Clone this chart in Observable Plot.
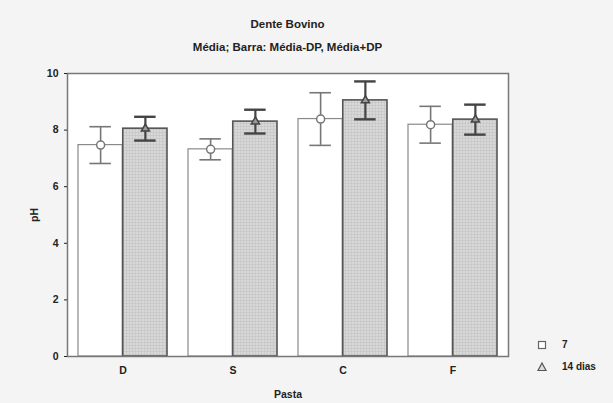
<!DOCTYPE html>
<html>
<head>
<meta charset="utf-8">
<script src="https://cdn.jsdelivr.net/npm/d3@7"></script>
<script src="https://cdn.jsdelivr.net/npm/@observablehq/plot@0.6"></script>
<style>
  html, body { margin: 0; padding: 0; background: #f4f4f4; }
  #wrap { position: relative; width: 613px; height: 403px; background: #f4f4f4;
          font-family: "Liberation Sans", Arial, sans-serif; font-weight: bold; color: #222; }
  .t { position: absolute; left: 67px; width: 441px; text-align: center; font-size: 11.5px; line-height: 14px; }
  #chart { position: absolute; left: 0; top: 60px; }
  .leg { position: absolute; left: 536px; font-size: 10px; line-height: 12px; display: flex; align-items: center; }
  .leg span { margin-left: 14px; }
</style>
</head>
<body>
<div id="wrap">
  <div class="t" style="top:17px">Dente Bovino</div>
  <div class="t" style="top:40px">Média; Barra: Média-DP, Média+DP</div>
  <div id="chart"></div>
  <div class="leg" style="top:339px">
    <svg width="12" height="12"><rect x="2.5" y="2.5" width="7" height="7" fill="white" stroke="#666" stroke-width="1.2"/></svg><span>7</span>
  </div>
  <div class="leg" style="top:361px">
    <svg width="12" height="12"><path d="M6,2 L10,9.5 L2,9.5 Z" fill="#ddd" stroke="#555" stroke-width="1.2"/></svg><span>14 dias</span>
  </div>
</div>
<script>
const pastas = ["D", "S", "C", "F"];
const series = ["7", "14 dias"];
const media7 = [7.47, 7.32, 8.39, 8.19];
const dp7 = [0.65, 0.37, 0.93, 0.65];
const media14 = [8.05, 8.30, 9.05, 8.37];
const dp14 = [0.42, 0.42, 0.67, 0.53];
const yTicks = [0, 2, 4, 6, 8, 10];

const rows7 = pastas.map((p, i) => ({pasta: p, serie: series[0], media: media7[i], dp: dp7[i]}));
const rows14 = pastas.map((p, i) => ({pasta: p, serie: series[1], media: media14[i], dp: dp14[i]}));

const W = 613, H = 343, ML = 67, MR = 105, MT = 13, MB = 47;
const PI = 0.19, PO = 0.09;
const step = (W - ML - MR) / (pastas.length - PI + 2 * PO);
const bw = step * (1 - PI);
const cap = 11;

const lo = d => d.media - d.dp;
const hi = d => d.media + d.dp;

const plot = Plot.plot({
  width: W, height: H,
  marginLeft: ML, marginRight: MR, marginTop: MT, marginBottom: MB,
  style: {fontFamily: "Liberation Sans, Arial, sans-serif", fontWeight: "bold", fontSize: "10.5px", background: "transparent", color: "#222"},
  x: {type: "band", domain: pastas, paddingInner: PI, paddingOuter: PO},
  y: {domain: [0, 10]},
  marks: [
    Plot.frame({fill: "white", stroke: "none"}),
    Plot.barY(rows7, {x: "pasta", y: "media", fill: "white", stroke: "#8a8a8a", strokeWidth: 1.2, insetRight: bw / 2}),
    Plot.barY(rows14, {x: "pasta", y: "media", fill: "url(#grade)", stroke: "#555", strokeWidth: 1.6, insetLeft: bw / 2}),
    Plot.ruleX(rows7, {x: "pasta", y1: lo, y2: hi, dx: -bw / 4, stroke: "#777", strokeWidth: 1.6}),
    Plot.tickY(rows7, {x: "pasta", y: lo, insetLeft: bw / 4 - cap, insetRight: 3 * bw / 4 - cap, stroke: "#777", strokeWidth: 1.6}),
    Plot.tickY(rows7, {x: "pasta", y: hi, insetLeft: bw / 4 - cap, insetRight: 3 * bw / 4 - cap, stroke: "#777", strokeWidth: 1.6}),
    Plot.dot(rows7, {x: "pasta", y: "media", dx: -bw / 4, r: 4, fill: "white", stroke: "#777", strokeWidth: 1.5}),
    Plot.ruleX(rows14, {x: "pasta", y1: lo, y2: hi, dx: bw / 4, stroke: "#444", strokeWidth: 2.2}),
    Plot.tickY(rows14, {x: "pasta", y: lo, insetLeft: 3 * bw / 4 - cap, insetRight: bw / 4 - cap, stroke: "#444", strokeWidth: 2.4}),
    Plot.tickY(rows14, {x: "pasta", y: hi, insetLeft: 3 * bw / 4 - cap, insetRight: bw / 4 - cap, stroke: "#444", strokeWidth: 2.4}),
    Plot.dot(rows14, {x: "pasta", y: "media", dx: bw / 4, symbol: "triangle", r: 3, fill: "#999", stroke: "#444", strokeWidth: 1.5}),
    Plot.frame({stroke: "#777", strokeWidth: 1.5}),
    Plot.axisY({ticks: yTicks, tickSize: 3, tickPadding: 6, label: "pH", labelAnchor: "center", labelArrow: "none", labelOffset: 37}),
    Plot.axisX({tickSize: 0, tickPadding: 10, label: "Pasta", labelAnchor: "center", labelArrow: "none", labelOffset: 41})
  ]
});

const svg = d3.select(plot);
const defs = svg.insert("defs", ":first-child");
const pat = defs.append("pattern").attr("id", "grade").attr("patternUnits", "userSpaceOnUse")
  .attr("width", 3).attr("height", 3);
pat.append("rect").attr("width", 3).attr("height", 3).attr("fill", "#d8d8d8");
pat.append("path").attr("d", "M0,0.5H3M0.5,0V3").attr("stroke", "#c2c2c2").attr("stroke-width", 0.6);

document.getElementById("chart").appendChild(plot);
</script>
</body>
</html>
